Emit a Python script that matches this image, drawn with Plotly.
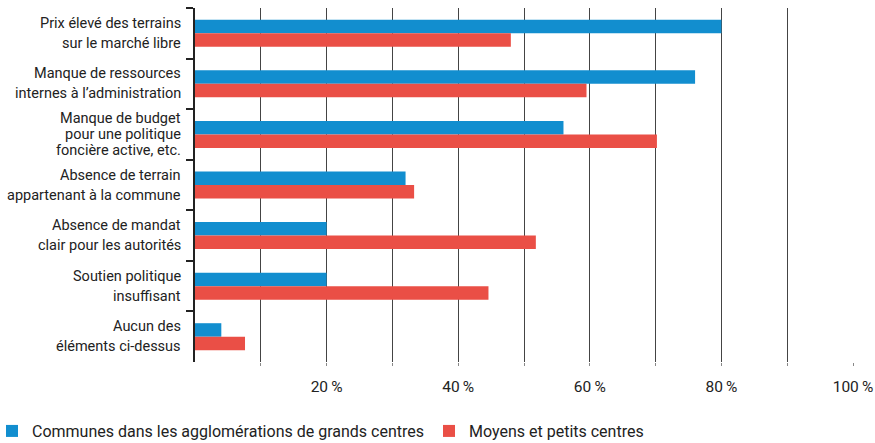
import plotly.graph_objects as go

categories = [
    "Prix élevé des terrains<br>sur le marché libre",
    "Manque de ressources<br>internes à l’administration",
    "Manque de budget<br>pour une politique<br>foncière active, etc.",
    "Absence de terrain<br>appartenant à la commune",
    "Absence de mandat<br>clair pour les autorités",
    "Soutien politique<br>insuffisant",
    "Aucun des<br>éléments ci-dessus",
]
grands_centres = [80, 76, 56, 32, 20, 20, 4]
petits_centres = [48, 59.5, 70.2, 33.3, 51.8, 44.6, 7.6]
series_names = ["Communes dans les agglomérations de grands centres", "Moyens et petits centres"]
tick_vals = [10, 20, 30, 40, 50, 60, 70, 80, 90, 100]
tick_text = ["", "20\u2009%", "", "40\u2009%", "", "60\u2009%", "", "80\u2009%", "", "100\u2009%"]

FONT = "Roboto, Arial, sans-serif"
TXT = "#222"

fig = go.Figure()
fig.add_trace(go.Bar(y=categories, x=grands_centres, name=series_names[0], orientation="h",
                     marker=dict(color="#128ecf", line=dict(width=0))))
fig.add_trace(go.Bar(y=categories, x=petits_centres, name=series_names[1], orientation="h",
                     marker=dict(color="#ea4f46", line=dict(width=0))))

# category labels as annotations (allows per-label line spacing)
annotations = []
for cat in categories:
    lines = cat.split("<br>")
    n = len(lines)
    spacing = 20 if n <= 2 else 16
    for j, line in enumerate(lines):
        annotations.append(dict(
            x=0, xref="paper", y=cat, yref="y", text=line, showarrow=False,
            xanchor="right", yanchor="middle", xshift=-12,
            yshift=((n - 1) / 2 - j) * spacing,
            font=dict(family=FONT, size=14.5, color=TXT)))

fig.update_layout(
    width=875, height=443,
    margin=dict(l=195, r=22, t=8, b=81, autoexpand=False),
    paper_bgcolor="white", plot_bgcolor="white",
    font=dict(family=FONT, size=16, color=TXT),
    barmode="group", bargap=0.466, bargroupgap=0,
    showlegend=True,
    annotations=annotations,
    legend=dict(orientation="h", x=-0.3085, xanchor="left", y=-0.195, yanchor="middle",
                font=dict(size=16, color=TXT), itemwidth=30,
                traceorder="normal", bgcolor="rgba(0,0,0,0)"),
    xaxis=dict(range=[0, 100], tickvals=tick_vals, ticktext=tick_text,
               showgrid=True, gridcolor="#444", gridwidth=1, zeroline=False,
               showline=False, ticks="outside", ticklen=3, tickcolor="#888",
               ticklabelstandoff=7, tickfont=dict(size=15.5, color=TXT),
               automargin=False),
    yaxis=dict(autorange="reversed", showline=True, linecolor="#222", linewidth=2,
               ticks="outside", tickson="boundaries", ticklen=7, tickcolor="#222",
               tickwidth=2, showgrid=False, showticklabels=False, automargin=False),
)

fig.write_html(
    "out.html",
    config={"displayModeBar": False},
    post_script="document.body.style.margin='0';document.body.style.overflow='hidden';",
)
